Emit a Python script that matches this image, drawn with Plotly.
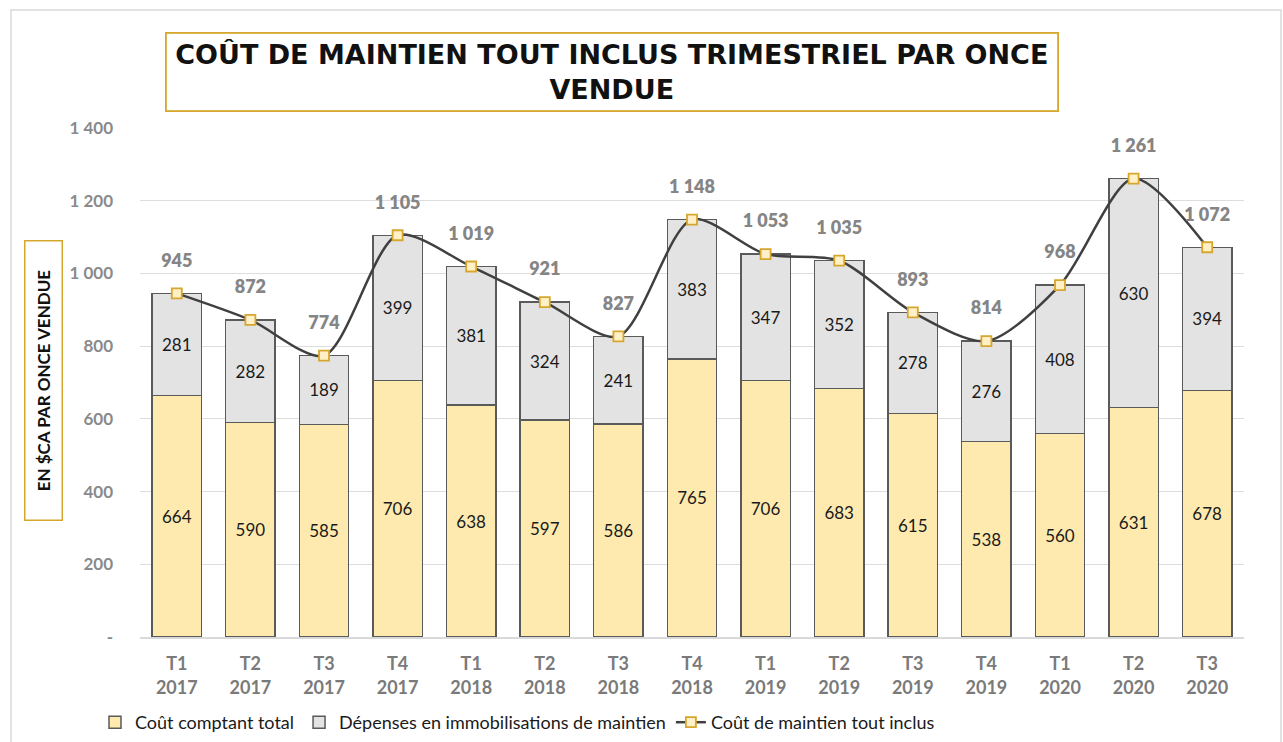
import plotly.graph_objects as go

categories = ["T1<br>2017", "T2<br>2017", "T3<br>2017", "T4<br>2017",
              "T1<br>2018", "T2<br>2018", "T3<br>2018", "T4<br>2018",
              "T1<br>2019", "T2<br>2019", "T3<br>2019", "T4<br>2019",
              "T1<br>2020", "T2<br>2020", "T3<br>2020"]
cout_comptant = [664, 590, 585, 706, 638, 597, 586, 765, 706, 683, 615, 538, 560, 631, 678]
depenses_maintien = [281, 282, 189, 399, 381, 324, 241, 383, 347, 352, 278, 276, 408, 630, 394]
cout_tout_inclus = [945, 872, 774, 1105, 1019, 921, 827, 1148, 1053, 1035, 893, 814, 968, 1261, 1072]
y_ticks = [0, 200, 400, 600, 800, 1000, 1200, 1400]


def fmt(v):
    return f"{v:,}".replace(",", " ")


y_ticktext = ["-" if v == 0 else fmt(v) for v in y_ticks]

FONT = "Lato, 'Open Sans', sans-serif"
GOLD = "#D6A72C"
GREY_TXT = "#858585"

L, R, T, B = 140, 39, 128, 105
PW = 1283 - L - R
PH = 742 - T - B

fig = go.Figure()
fig.add_trace(go.Bar(
    x=categories, y=cout_comptant, name="Coût comptant total",
    marker=dict(color="#FEEAAE", line=dict(color="#5A5A5A", width=1.5)),
    text=[str(v) for v in cout_comptant], textposition="inside",
    insidetextanchor="middle", textangle=0,
    textfont=dict(color="#1a1a1a", size=17, family=FONT),
))
fig.add_trace(go.Bar(
    x=categories, y=depenses_maintien, name="Dépenses en immobilisations de maintien",
    marker=dict(color="#E3E3E3", line=dict(color="#5A5A5A", width=1.5)),
    text=[str(v) for v in depenses_maintien], textposition="inside",
    insidetextanchor="middle", textangle=0,
    textfont=dict(color="#1a1a1a", size=17, family=FONT),
))
fig.add_trace(go.Scatter(
    x=categories, y=cout_tout_inclus, name="Coût de maintien tout inclus",
    mode="lines+markers",
    line=dict(color="#404040", width=2.5, shape="spline", smoothing=0.8),
    marker=dict(symbol="square", size=10, color="#FFF0C8", line=dict(color=GOLD, width=1.8)),
    cliponaxis=False,
))
# Data labels for the line (invisible larger markers push the labels upward)
fig.add_trace(go.Scatter(
    x=categories, y=cout_tout_inclus, mode="markers+text", showlegend=False,
    hoverinfo="skip",
    marker=dict(size=34, color="rgba(255,255,255,0)"),
    text=[fmt(v) for v in cout_tout_inclus], textposition="top center",
    textfont=dict(color=GREY_TXT, size=18, family=FONT, weight=800),
    cliponaxis=False,
))

fig.update_layout(
    width=1283, height=742,
    barmode="stack", bargap=0.33,
    plot_bgcolor="white", paper_bgcolor="white",
    margin=dict(l=L, r=R, t=T, b=B, autoexpand=False),
    font=dict(family=FONT),
    showlegend=True,
    legend=dict(orientation="h", x=(95 - L) / PW, y=-(704 - (T + PH)) / PH,
                xanchor="left", yanchor="top",
                font=dict(size=18, color="#1a1a1a", family=FONT),
                tracegroupgap=0, traceorder="normal"),
)
fig.update_xaxes(
    range=[-0.5, len(categories) - 0.5],
    tickfont=dict(size=18, color="#7A7A7A", family=FONT, weight="bold"),
    showline=True, linecolor="#D9D9D9", linewidth=1.5, ticks="",
    ticklabelstandoff=10,
)
fig.update_yaxes(
    range=[0, 1400], tickvals=y_ticks, ticktext=y_ticktext,
    tickfont=dict(size=17, color="#8A8A8A", family=FONT, weight="bold"),
    showgrid=True, gridcolor="#DDDDDD", gridwidth=1.2, zeroline=False,
    ticks="", ticklen=0, showline=False, ticklabelstandoff=26,
)

# Title box
fig.add_annotation(
    xref="paper", yref="paper", x=(612 - L) / PW, y=1 + (T - 72) / PH,
    xanchor="center", yanchor="middle", showarrow=False,
    text="<b>COÛT DE MAINTIEN TOUT INCLUS TRIMESTRIEL PAR ONCE<br>VENDUE</b>",
    font=dict(size=27, color="#111111", family="'DejaVu Sans', Verdana, sans-serif"),
    bordercolor=GOLD, borderwidth=1.8, borderpad=3, width=884, height=70,
    bgcolor="white",
)
# Y axis title box
fig.add_annotation(
    xref="paper", yref="paper", x=(43 - L) / PW, y=(T + PH - 381) / PH,
    xanchor="center", yanchor="middle", showarrow=False, textangle=-90,
    text="<b>EN $CA PAR ONCE VENDUE</b>",
    font=dict(size=17, color="#111111", family=FONT),
    bordercolor=GOLD, borderwidth=1.5, borderpad=5, width=268, height=26,
)
# Outer chart frame
fig.add_shape(
    type="rect", xref="paper", yref="paper",
    x0=(11 - L) / PW, x1=(1281 - L) / PW,
    y0=(T + PH - 745) / PH, y1=(T + PH - 10) / PH,
    line=dict(color="#D9D9D9", width=1.5), layer="below",
)

fig.write_html("out.html", config={"displayModeBar": False},
               post_script="document.body.style.margin='0';")
